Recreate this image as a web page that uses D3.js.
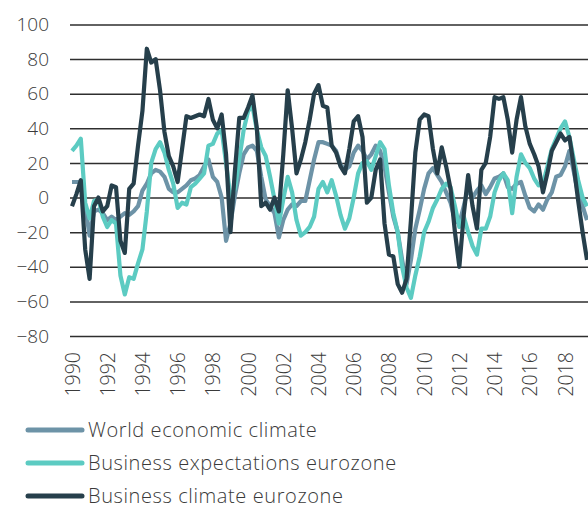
<!DOCTYPE html>
<html>
<head>
<meta charset="utf-8">
<script src="https://cdn.jsdelivr.net/npm/d3@7"></script>
<style>
  body { margin: 0; background: #fff; }
  text { font-family: "Open Sans", Lato, sans-serif; font-weight: 300; }
</style>
</head>
<body>
<div id="chart"></div>
<script>
// ifo climate indicators, quarterly from 1990 Q1

const width = 588
const height = 508

const startYear = 1990
const yTicks = [-80, -60, -40, -20, 0, 20, 40, 60, 80, 100]
const yearLabels = [1990, 1992, 1994, 1996, 1998, 2000, 2002, 2004, 2006, 2008, 2010, 2012, 2014, 2016, 2018]

const worldClimate = [9,9,9,-5,-22,-8,-7,-9,-13,-11, -13,-11,-9,-10,-8,-5,4,8,14,16, 15,12,5,3,3,5,7,10,
  11,13,18,22,12,9,0,-25,-15,1, 14,25,29,30,27,12,-1,-5,-9,-23, -13,-7,-4,-5,-2,-2,10,22,32,32,
  31,30,27,19,16,18,26,30,27,22, 25,30,27,18,3,-11,-20,-36,-50,-36, -18,-7,5,14,17,13,9,3,-3,-13,
  -15,-5,6,0,4,7,2,6,11,12, 14,6,5,8,9,1,-6,-8,-4,-7, -1,3,12,13,18,27,15,2,-5,-13]

const expectationsEZ = [27,30,34,-3,-12,-2,-1,-11,-17,-13, -15,-45,-56,-46,-47,-38,-30,-8,20,28, 32,26,16,8,-6,-3,-4,6,
  8,11,14,30,31,37,39,20,0,5, 22,39,50,53,39,29,24,12,-1,-15, -1,12,3,-13,-22,-20,-17,-11,5,9,
  3,10,1,-10,-18,-12,0,14,20,21, 16,24,32,28,7,-9,-20,-40,-52,-58, -45,-34,-20,-14,-6,-1,5,8,6,
  -5,-17,-11,-20,-28,-33,-18,-18,-11,3, 10,14,10,-9,12,25,20,17,11,7, 8,18,28,34,40,44,35,22,10,0, -5]

const climateEZ = [-5,2,10,-30,-47,-5,0,-8,-5,7, 6,-25,-32,5,8,30,50,86,78,80, 62,38,24,18,9,28,47,46,47,48,
  47,57,45,40,48,25,-20,15,46,46, 52,59,40,-5,-3,-7,0,-8,25,62, 40,14,22,32,45,60,65,53,52,30,
  26,18,14,28,44,47,35,-3,0,16, 22,-15,-33,-34,-50,-55,-47,-13,26,45, 48,47,28,14,29,18,5,-20,-40,-10,
  13,-5,-18,16,20,35,58,57,58,45, 26,45,58,41,31,25,18,3,14,27, 32,37,33,35,18,-2,-20,-36]

const seriesNames = ['World economic climate', 'Business expectations eurozone', 'Business climate eurozone']
const seriesColors = ['#6d93a7', '#5ccbc2', '#263f4b']
const seriesValues = [worldClimate, expectationsEZ, climateEZ]

const svg = d3.select('#chart')
    .append('svg')
    .attr('width', width)
    .attr('height', height)

const lastYear = startYear + (climateEZ.length - 1) / 4

let xScale = d3.scaleLinear()
    .domain([startYear, lastYear])
    .range([72, 587])

let yScale = d3.scaleLinear()
    .domain([-80, 100])
    .range([336, 24.5])

// grid lines + y labels
let yAxis = d3.axisLeft(yScale)
    .tickValues(yTicks)
    .tickSize(-(588 - 70))
    .tickPadding(21)

let yAxisGroup = svg.append('g')
    .attr('class', 'y-axis')
    .attr('transform', 'translate(70,0)')
    .call(yAxis)

yAxisGroup.select('.domain').remove()
yAxisGroup.selectAll('line')
    .attr('stroke', '#2e2e2e')
    .attr('stroke-width', 1.5)
yAxisGroup.selectAll('text')
    .attr('fill', '#3a3a3a')
    .style('font-size', '19px')

// rotated year labels
let xAxis = d3.axisBottom(xScale)
    .tickValues(yearLabels)
    .tickFormat(d3.format('d'))
    .tickSize(0)

let xAxisGroup = svg.append('g')
    .attr('class', 'x-axis')
    .attr('transform', 'translate(0,336)')
    .call(xAxis)

xAxisGroup.select('.domain').remove()
xAxisGroup.selectAll('text')
    .attr('transform', 'rotate(-90)')
    .attr('text-anchor', 'end')
    .attr('x', -16)
    .attr('y', 0)
    .attr('dy', '0.36em')
    .attr('fill', '#3a3a3a')
    .style('font-size', '19.5px')

// lines
const line = d3.line()
    .x((d, i) => xScale(startYear + i / 4))
    .y(d => yScale(d))

svg.append('g')
    .attr('fill', 'none')
    .attr('stroke-width', 4.2)
    .attr('stroke-linejoin', 'round')
    .selectAll('path')
    .data(seriesValues)
    .join('path')
    .attr('stroke', (d, i) => seriesColors[i])
    .attr('d', line)

// legend
const legend = svg.append('g')
    .selectAll('g')
    .data(seriesNames)
    .join('g')
    .attr('transform', (d, i) => `translate(28, ${430 + i * 33})`)

legend.append('line')
    .attr('x1', 0)
    .attr('x2', 54)
    .attr('stroke', (d, i) => seriesColors[i])
    .attr('stroke-width', 5)
    .attr('stroke-linecap', 'round')

legend.append('text')
    .attr('x', 60)
    .attr('dy', '0.33em')
    .attr('fill', '#3a3a3a')
    .style('font-size', '20px')
    .style('letter-spacing', '0.6px')
    .text(d => d)
</script>
</body>
</html>
